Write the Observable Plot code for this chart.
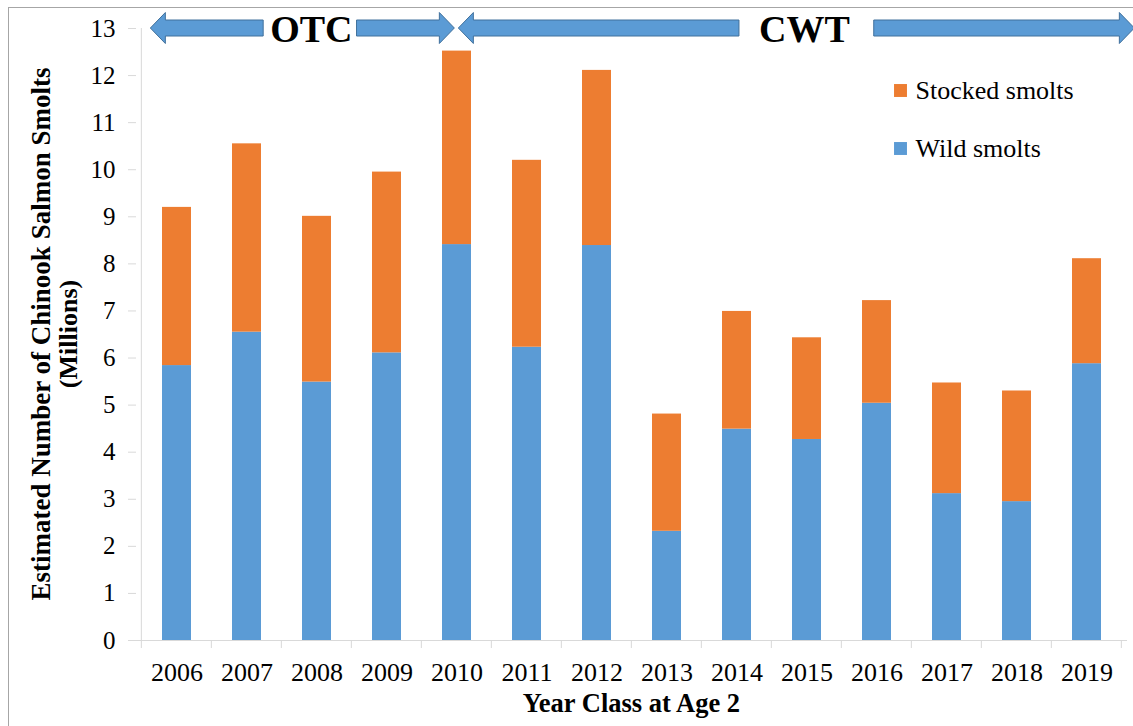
<!DOCTYPE html>
<html>
<head>
<meta charset="utf-8">
<script src="https://cdn.jsdelivr.net/npm/d3@7"></script>
<script src="https://cdn.jsdelivr.net/npm/@observablehq/plot@0.6"></script>
<style>
  html, body { margin: 0; padding: 0; background: #fff; }
  #wrap { position: relative; width: 1133px; height: 726px; overflow: hidden; background: #fff; }
  #wrap svg { position: absolute; left: 0; top: 0; font-family: 'Liberation Serif', 'Times New Roman', Times, serif !important; }
  #frame { position: absolute; left: 8px; top: 7px; right: -10px; bottom: -10px;
           border-top: 1px solid #a6a6a6; border-left: 1px solid #a6a6a6; pointer-events: none; }
</style>
</head>
<body>
<div id="wrap"><div id="frame"></div></div>
<script>
// ---------- data ----------
const years = ["2006","2007","2008","2009","2010","2011","2012","2013","2014","2015","2016","2017","2018","2019"];
const wildSmolts    = [5.84, 6.55, 5.49, 6.11, 8.41, 6.23, 8.39, 2.32, 4.49, 4.27, 5.04, 3.12, 2.95, 5.88];
const stockedSmolts = [3.36, 4.00, 3.52, 3.84, 4.11, 3.97, 3.72, 2.49, 2.50, 2.16, 2.18, 2.35, 2.35, 2.23];
const seriesNames = ["Wild smolts", "Stocked smolts"];
const legendOrder = ["Stocked smolts", "Wild smolts"];
const yTicks = [0,1,2,3,4,5,6,7,8,9,10,11,12,13];
const periods = [
  {label: "OTC", from: null,   to: "2010"},
  {label: "CWT", from: "2010", to: null}
];
const xTitle = "Year Class at Age 2";
const yTitleLines = ["Estimated Number of Chinook Salmon Smolts", "(Millions)"];

// ---------- styles ----------
const seriesColors = ["#5B9BD5", "#ED7D31"];
const axisColor = "#d9d9d9";
const serif = "'Liberation Serif', 'Times New Roman', Times, serif";
const padInner = 0.59;
const periodStyle = {
  OTC: {gapL: 7, gapR: 4, textShift: 9, startInset: 9, endInset: 2},
  CWT: {gapL: 20, gapR: 24, textShift: 8, startInset: 2, endInset: -13}
};
const yTitleSizes = [27, 26];

const rows = years.flatMap((yr, i) => [
  {year: yr, type: "Wild smolts", value: wildSmolts[i]},
  {year: yr, type: "Stocked smolts", value: stockedSmolts[i]}
]);

const measure = document.createElement("canvas").getContext("2d");
function textWidth(str, font) { measure.font = font; return measure.measureText(str).width; }

function bandGeom(x) {
  const step = x(years[1]) - x(years[0]);
  const bw = step * (1 - padInner);
  const boundary = yr => x(yr) - step * padInner / 2;
  const center = yr => x(yr) + bw / 2;
  const start = boundary(years[0]);
  const end = boundary(years[years.length - 1]) + step;
  return {step, bw, boundary, center, start, end};
}

// axis line + category boundary ticks
function axisDecor(index, {x, y}) {
  const g = d3.create("svg:g");
  const b = bandGeom(x);
  g.append("line").attr("x1", b.start).attr("x2", b.start)
    .attr("y1", y(0)).attr("y2", y(13)).attr("stroke", axisColor);
  for (let i = 0; i <= years.length; i++) {
    const bx = b.start + i * b.step;
    g.append("line").attr("x1", bx).attr("x2", bx)
      .attr("y1", y(0)).attr("y2", y(0) + 8).attr("stroke", axisColor);
  }
  return g.node();
}

function arrowPoly(tip, tail, yc, bh, hh, hl) {
  const s = tail > tip ? 1 : -1;
  const h = tip + s * hl;
  return [[tip, yc], [h, yc - hh], [h, yc - bh], [tail, yc - bh], [tail, yc + bh], [h, yc + bh], [h, yc + hh]]
    .map(p => p.join(",")).join(" ");
}

function periodArrows(index, {x, y}) {
  const g = d3.create("svg:g");
  const b = bandGeom(x);
  const yc = y(13);
  const font = `bold 38px ${serif}`;
  for (const p of periods) {
    const st = periodStyle[p.label];
    const a = (p.from ? b.center(p.from) : b.start) + st.startInset;
    const z = (p.to ? b.center(p.to) : b.end) - st.endInset;
    const tc = (a + z) / 2 + st.textShift;
    const tw = textWidth(p.label, font);
    g.append("polygon").attr("points", arrowPoly(a, tc - tw / 2 - st.gapL, yc, 8, 15.5, 15))
      .attr("fill", "#5B9BD5").attr("stroke", "#41719C").attr("stroke-width", 1);
    g.append("polygon").attr("points", arrowPoly(z, tc + tw / 2 + st.gapR, yc, 8, 15.5, 15))
      .attr("fill", "#5B9BD5").attr("stroke", "#41719C").attr("stroke-width", 1);
    g.append("text").attr("x", tc).attr("y", yc + 14).attr("text-anchor", "middle")
      .attr("font-family", serif).attr("font-weight", "bold").attr("font-size", 38)
      .attr("fill", "black").text(p.label);
  }
  return g.node();
}

function axisTitles(index, {x, y}) {
  const g = d3.create("svg:g");
  const b = bandGeom(x);
  g.append("text").attr("x", (b.start + b.end) / 2).attr("y", y(0) + 72)
    .attr("text-anchor", "middle").attr("font-family", serif).attr("font-weight", "bold")
    .attr("font-size", 26.5).attr("fill", "black").text(xTitle);
  const yl = g.append("g").attr("transform", `translate(0,${(y(0) + y(13)) / 2}) rotate(-90)`);
  yTitleLines.forEach((t, i) => {
    yl.append("text").attr("x", 0).attr("y", 50 + i * 27).attr("text-anchor", "middle")
      .attr("font-family", serif).attr("font-weight", "bold").attr("font-size", yTitleSizes[i])
      .attr("fill", "black").text(t);
  });
  return g.node();
}

const legendMarks = legendOrder.flatMap((name, i) => [
  Plot.dot([name], {frameAnchor: "top-left", dx: 764, dy: 62 + i * 58, fill: d => d,
                    symbol: "square", r: 7.3}),
  Plot.text([name], {frameAnchor: "top-left", dx: 779, dy: 62 + i * 58, text: d => d,
                     textAnchor: "start", lineAnchor: "middle", fontSize: 26, fill: "black",
                     fontFamily: serif})
]);

const chart = Plot.plot({
  width: 1133, height: 726,
  marginTop: 28, marginBottom: 86, marginLeft: 136, marginRight: 6,
  style: {fontFamily: serif, fontSize: "25px", color: "black", background: "transparent", overflow: "visible"},
  x: {type: "band", domain: years, paddingInner: padInner, paddingOuter: padInner / 2, label: null},
  y: {domain: [0, 13], label: null},
  color: {domain: seriesNames, range: seriesColors},
  marks: [
    Plot.barY(rows, {x: "year", y: "value", fill: "type", order: seriesNames}),
    Plot.ruleY([0], {stroke: axisColor}),
    Plot.axisY({ticks: yTicks, tickSize: 8, tickPadding: 13, stroke: axisColor, fill: "black",
                fontSize: 25, fontFamily: serif, label: null, tickFormat: d => String(d)}),
    Plot.axisX({tickSize: 0, tickPadding: 22, fontSize: 26, fontFamily: serif, fill: "black", label: null}),
    axisDecor,
    periodArrows,
    axisTitles,
    ...legendMarks
  ]
});
document.getElementById("wrap").prepend(chart);
</script>
</body>
</html>
